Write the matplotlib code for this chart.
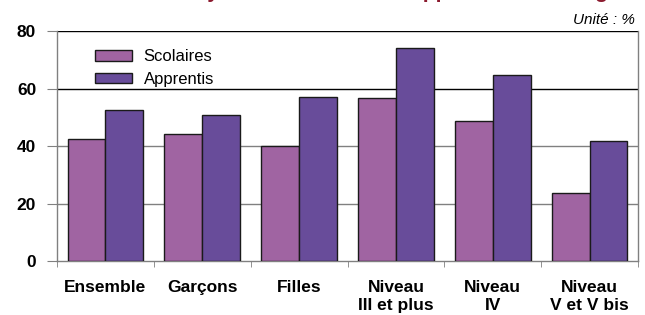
import numpy as np
import matplotlib
matplotlib.use("Agg")
import matplotlib.pyplot as plt

plt.rcParams['font.family'] = ['Liberation Sans', 'DejaVu Sans']

# Data
categories = ["Ensemble", "Garçons", "Filles", "Niveau\nIII et plus", "Niveau\nIV", "Niveau\nV et V bis"]
scolaires = [42.3, 44.3, 40.0, 56.8, 48.8, 23.8]
apprentis = [52.5, 50.8, 57.1, 74.0, 64.6, 41.8]
series_names = ["Scolaires", "Apprentis"]
yticks = [0, 20, 40, 60, 80]

col_scol = "#A064A2"
col_app = "#684C9A"

fig = plt.figure(figsize=(6.45, 3.15), dpi=100)
ax = fig.add_axes([57 / 645, 1 - 261 / 315, (638 - 57) / 645, (261 - 31) / 315])

x = np.arange(len(categories))
w = 0.39
ax.bar(x - w / 2, scolaires, w, color=col_scol, edgecolor="#1a1a1a", linewidth=1.0,
       label=series_names[0], zorder=3)
ax.bar(x + w / 2, apprentis, w, color=col_app, edgecolor="#1a1a1a", linewidth=1.0,
       label=series_names[1], zorder=3)

ax.set_xlim(-0.5, len(categories) - 0.5)
ax.set_ylim(0, 80)

# gridlines: grey at 20/40, black legend box lines at 60/80
for v in [20, 40]:
    ax.axhline(v, color="#808080", linewidth=1.0, zorder=1)
for v in [60, 80]:
    ax.axhline(v, color="black", linewidth=1.0, zorder=1)

for s in ["left", "right", "bottom"]:
    ax.spines[s].set_color("#808080")
    ax.spines[s].set_linewidth(1.0)
ax.spines["top"].set_visible(False)

ax.set_yticks(yticks)
ax.set_yticklabels([str(t) for t in yticks], fontsize=12.5, fontweight="bold")
ax.tick_params(axis="y", direction="out", length=7, color="#808080", pad=8)

ax.set_xticks(x)
ax.set_xticklabels(categories, fontsize=12.5, fontweight="bold", linespacing=1.25)
ax.tick_params(axis="x", length=0, pad=14)
ax.set_xticks(np.arange(len(categories) + 1) - 0.5, minor=True)
ax.tick_params(axis="x", which="minor", direction="out", length=4, color="#808080")

ax.legend(loc="upper left", bbox_to_anchor=(0.04, 0.985), frameon=False,
          fontsize=12, handlelength=2.2, handleheight=0.6, labelspacing=0.45,
          handletextpad=0.7)

fig.text(635 / 645, 1 - 20 / 315, "Unité : %", ha="right", va="center",
         fontsize=11, style="italic")

# title, mostly clipped by the top edge as in the reference
fig.text(162 / 645, 1 + 2 / 315, "Analyse des scolaires et apprentis selon le genre",
         ha="left", va="baseline", fontsize=15, fontweight="bold", color="#8B1A2E")

fig.savefig("out.png", dpi=100)
